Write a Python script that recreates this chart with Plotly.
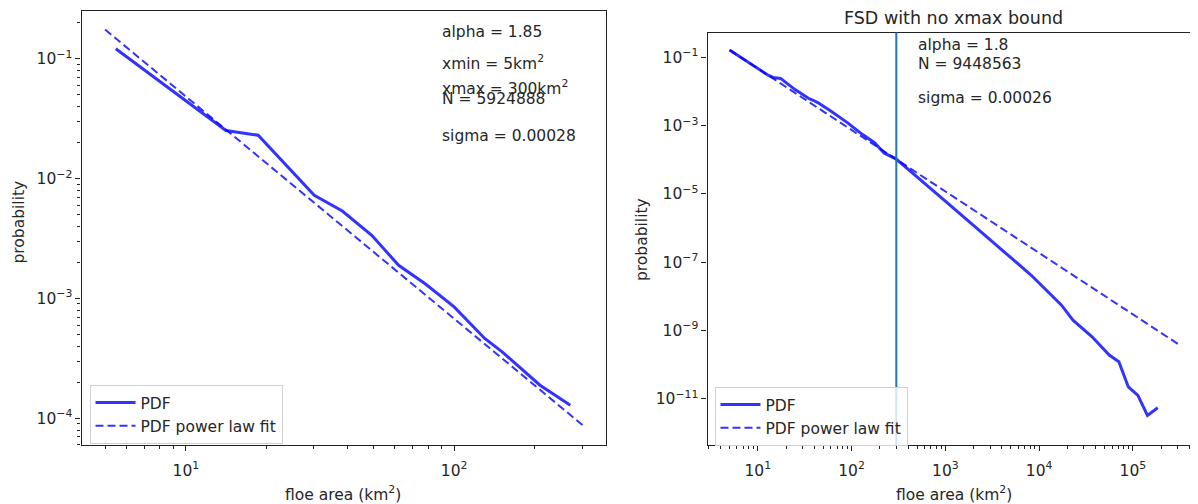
import math
import plotly.graph_objects as go

# ---------------- data ----------------
# Left panel: xmin = 5, xmax = 300 bounded fit
left_pdf_x = [5.48, 14.1, 18.6, 30.1, 38.3, 49.3, 62.1, 78.2, 100, 130, 151, 209, 271]
left_pdf_y = [0.121, 0.0252, 0.0230, 0.00726, 0.00537, 0.00337, 0.00189, 0.00132,
              0.000851, 0.000464, 0.000359, 0.000189, 0.000129]
left_fit_x = [5.0, 301]
left_fit_y = [0.175, 8.8e-5]

# Right panel: no xmax bound
right_pdf_x = [5.0, 8.0, 13.0, 14.6, 17.5, 25, 35, 39, 44, 60, 91, 130, 176, 222, 297,
               1000, 3890, 8190, 17330, 22960, 36700, 55900, 70800, 89400, 113000, 143000, 184000]
right_pdf_y = [0.167, 0.0718, 0.030, 0.0262, 0.0245, 0.0115, 0.0063, 0.0056, 0.0047, 0.0027,
               0.00122, 5.6e-4, 3.2e-4, 1.6e-4, 1.07e-4,
               6.2e-6, 2.45e-7, 4.2e-8, 5.5e-9, 2.0e-9, 6.5e-10, 1.9e-10, 1.2e-10, 2.2e-11,
               1.25e-11, 3.2e-12, 5.4e-12]
right_fit_x = [5.0, 316000]
right_fit_y = [0.167, 3.7e-10]
xmax_bound = 300

left_text = ["alpha = 1.85", "xmin = 5km<sup>2</sup>", "xmax = 300km<sup>2</sup>",
             "N = 5924888", "sigma = 0.00028"]
right_text = ["alpha = 1.8", "N = 9448563", "sigma = 0.00026"]
right_title = "FSD with no xmax bound"
x_label = "floe area (km<sup>2</sup>)"
y_label = "probability"

left_xticks = [10, 100]
left_yticks = [1e-1, 1e-2, 1e-3, 1e-4]
right_xticks = [10, 100, 1e3, 1e4, 1e5]
right_yticks = [1e-1, 1e-3, 1e-5, 1e-7, 1e-9, 1e-11]

# ---------------- figure ----------------
# The page body keeps its default 8px margin, so the figure is drawn 8px
# smaller and every reference pixel position is shifted by that offset.
PAGE_W, PAGE_H, OFF = 1198, 504, 8
W, H = PAGE_W - OFF, PAGE_H - OFF
FONT = "DejaVu Sans"
TXT = "#262626"
LINE_COL = "rgba(0,0,255,0.8)"
FS = 15.5


def px(x):
    return (x - OFF) / W


def py(y):
    return 1 - (y - OFF) / H


def pow_label(v):
    p = int(round(math.log10(v)))
    return "10<sup>%s%d</sup>" % ("\u2212" if p < 0 else "", abs(p))


def minor_vals(lo, hi):
    vals = []
    for e in range(lo, hi + 1):
        for m in range(2, 10):
            vals.append(m * 10.0 ** e)
    return vals


fig = go.Figure()

solid = dict(color=LINE_COL, width=3)
dashed = dict(color=LINE_COL, width=2, dash="8px,4px")

fig.add_trace(go.Scatter(x=left_pdf_x, y=left_pdf_y, mode="lines", name="PDF",
                         line=solid, xaxis="x", yaxis="y", legend="legend"))
fig.add_trace(go.Scatter(x=left_fit_x, y=left_fit_y, mode="lines", name="PDF power law fit",
                         line=dashed, xaxis="x", yaxis="y", legend="legend"))
fig.add_trace(go.Scatter(x=right_pdf_x, y=right_pdf_y, mode="lines", name="PDF",
                         line=solid, xaxis="x2", yaxis="y2", legend="legend2"))
fig.add_trace(go.Scatter(x=right_fit_x, y=right_fit_y, mode="lines", name="PDF power law fit",
                         line=dashed, xaxis="x2", yaxis="y2", legend="legend2"))

fig.add_shape(type="line", xref="x2", yref="y2 domain", x0=xmax_bound, x1=xmax_bound,
              y0=0, y1=1, line=dict(color="#1f77b4", width=2), layer="above")

axis_common = dict(type="log", showgrid=False, zeroline=False, showline=True,
                   linecolor="#222", linewidth=1.2, ticks="outside", ticklen=5,
                   tickwidth=1.2, tickcolor="#222",
                   tickfont=dict(family=FONT, size=FS, color=TXT))

minor_common = dict(ticks="outside", ticklen=3, tickwidth=1, tickcolor="#222",
                    showgrid=False, tickmode="array")

legend_common = dict(xanchor="left", yanchor="top", bgcolor="rgba(255,255,255,0.8)",
                     bordercolor="#d0d0d0", borderwidth=1, itemwidth=40,
                     font=dict(family=FONT, size=FS, color=TXT), tracegroupgap=0)

fig.update_layout(
    width=W, height=H,
    margin=dict(l=0, r=0, t=0, b=0),
    paper_bgcolor="white", plot_bgcolor="white",
    font=dict(family=FONT, size=FS, color=TXT),
    xaxis=dict(axis_common, domain=[px(81.5), px(606)], range=[0.611, 2.566], anchor="y",
               mirror=True, tickmode="array", tickvals=left_xticks,
               ticktext=[pow_label(v) for v in left_xticks], ticklabelstandoff=6,
               minor=dict(minor_common, tickvals=minor_vals(0, 2))),
    yaxis=dict(axis_common, domain=[py(445), py(11)], range=[-4.222, -0.602], anchor="x",
               mirror=True, tickmode="array", tickvals=left_yticks,
               ticktext=[pow_label(v) for v in left_yticks],
               minor=dict(minor_common, tickvals=minor_vals(-5, -1))),
    xaxis2=dict(axis_common, domain=[px(707.5), 1.0], range=[0.464, 5.694], anchor="y2",
                mirror=True, tickmode="array", tickvals=right_xticks,
                ticktext=[pow_label(v) for v in right_xticks], ticklabelstandoff=6,
                minor=dict(minor_common, tickvals=minor_vals(0, 5))),
    yaxis2=dict(axis_common, domain=[py(445), py(32.5)], range=[-12.36, -0.265], anchor="x2",
                mirror=False, tickmode="array", tickvals=right_yticks,
                ticktext=[pow_label(v) for v in right_yticks]),
    legend=dict(legend_common, x=px(89.5), y=py(385)),
    legend2=dict(legend_common, x=px(714.5), y=py(387)),
    showlegend=True,
)

annotations = []
left_ys = [31.7, 62.7, 87.5, 99.5, 136]
for t, yy in zip(left_text, left_ys):
    annotations.append(dict(text=t, x=px(440), y=py(yy), xref="paper", yref="paper",
                            xanchor="left", yanchor="middle", showarrow=False,
                            font=dict(family=FONT, size=FS, color=TXT)))
right_ys = [45, 64, 98.3]
for t, yy in zip(right_text, right_ys):
    annotations.append(dict(text=t, x=px(916), y=py(yy), xref="paper", yref="paper",
                            xanchor="left", yanchor="middle", showarrow=False,
                            font=dict(family=FONT, size=FS, color=TXT)))
annotations.append(dict(text=right_title, x=px(954), y=py(17.5), xref="paper", yref="paper",
                        xanchor="center", yanchor="middle", showarrow=False,
                        font=dict(family=FONT, size=17.5, color=TXT)))
# axis titles
annotations.append(dict(text=x_label, x=px(343), y=py(493), xref="paper", yref="paper",
                        xanchor="center", yanchor="middle", showarrow=False,
                        font=dict(family=FONT, size=FS, color=TXT)))
annotations.append(dict(text=x_label, x=px(954), y=py(493), xref="paper", yref="paper",
                        xanchor="center", yanchor="middle", showarrow=False,
                        font=dict(family=FONT, size=FS, color=TXT)))
annotations.append(dict(text=y_label, x=px(18.5), y=py(222), xref="paper", yref="paper",
                        xanchor="center", yanchor="middle", showarrow=False, textangle=-90,
                        font=dict(family=FONT, size=FS, color=TXT)))
annotations.append(dict(text=y_label, x=px(642), y=py(240), xref="paper", yref="paper",
                        xanchor="center", yanchor="middle", showarrow=False, textangle=-90,
                        font=dict(family=FONT, size=FS, color=TXT)))
fig.update_layout(annotations=annotations)

fig.write_html("out.html")
